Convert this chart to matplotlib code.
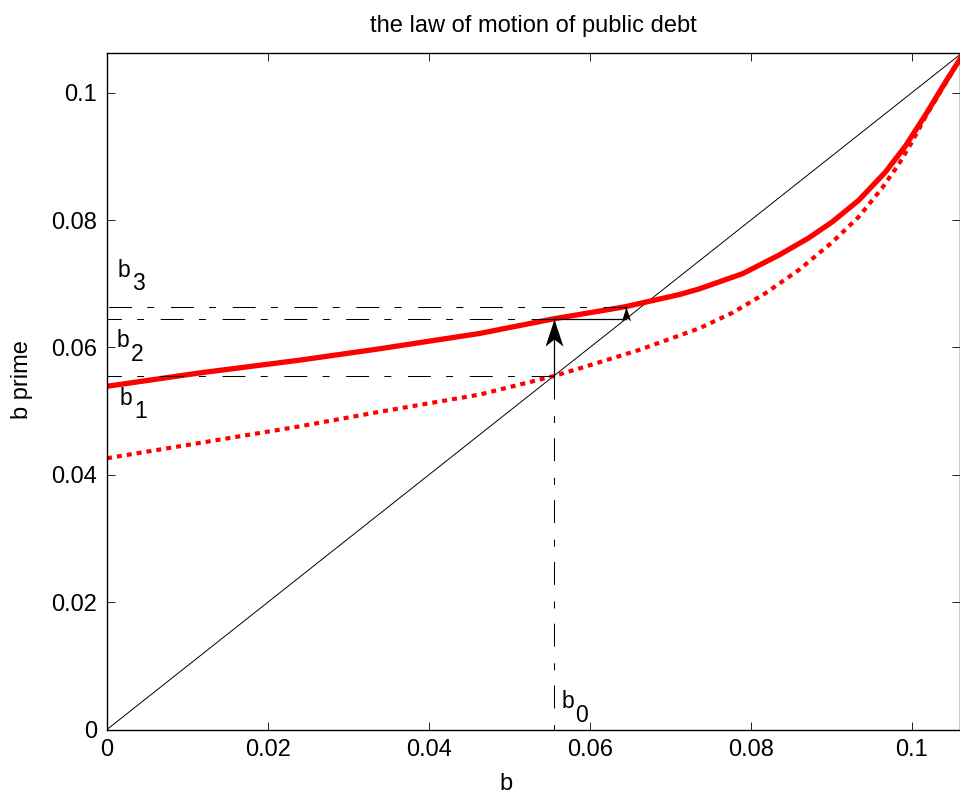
import matplotlib
matplotlib.use("Agg")
import matplotlib.pyplot as plt
from matplotlib.path import Path

plt.rcParams['font.family'] = ['Liberation Sans', 'DejaVu Sans']
plt.rcParams['lines.scale_dashes'] = False

# law of motion, new policy (solid red)
b_new = [0.0, 0.0115, 0.0239, 0.0339, 0.0463, 0.0555, 0.0644, 0.0711, 0.0736,
         0.0790, 0.0835, 0.0872, 0.0901, 0.0934, 0.0967, 0.0992, 0.1017, 0.1042, 0.1060]
bp_new = [0.0539, 0.0560, 0.0580, 0.0598, 0.0622, 0.0645, 0.0664, 0.0683, 0.0692,
          0.0716, 0.0745, 0.0772, 0.0797, 0.0831, 0.0875, 0.0916, 0.0965, 0.1017, 0.1053]

# law of motion, old policy (dotted red)
b_old = [0.0, 0.0115, 0.0239, 0.0339, 0.0463, 0.0555, 0.0587, 0.0661, 0.0736, 0.0778,
         0.0818, 0.0860, 0.0901, 0.0934, 0.0963, 0.0984, 0.1000, 0.1017, 0.1042, 0.1060]
bp_old = [0.0426, 0.0450, 0.0476, 0.0499, 0.0526, 0.0555, 0.0567, 0.0596, 0.0630, 0.0655,
          0.0685, 0.0722, 0.0765, 0.0805, 0.0850, 0.0888, 0.0922, 0.0962, 0.1015, 0.1053]

b_max = 0.106
diag = [0.0, b_max]

# iterations
b0 = 0.0555
b1 = 0.0555
b2 = 0.0645
b3 = 0.0663

ticks = [0, 0.02, 0.04, 0.06, 0.08, 0.1]
tick_labels = ['0', '0.02', '0.04', '0.06', '0.08', '0.1']

fig = plt.figure(figsize=(9.6, 8.01), dpi=100)
ax = fig.add_axes([107/960, 71.5/801, 853/960, 676.2/801])

ax.plot(diag, diag, color='k', lw=0.7)
ax.plot(b_old, bp_old, color='red', lw=3.0, linestyle=(0, (3.6, 3.6)), dash_capstyle='butt')
ax.plot(b_new, bp_new, color='red', lw=3.8)

dd = (0, (16.5, 12, 5, 11))
ax.plot([b0, 0], [b1, b1], color='k', lw=0.75, linestyle=dd)
ax.plot([b1, 0], [b2, b2], color='k', lw=0.75, linestyle=dd)
ax.plot([b2, 0], [b3, b3], color='k', lw=0.75, linestyle=dd)
ax.plot([b0, b0], [b1, 0], color='k', lw=0.75, linestyle=dd)

# arrows
head = Path([(0, 0), (-0.33, -1), (0, -0.74), (0.33, -1), (0, 0)],
            [Path.MOVETO, Path.LINETO, Path.LINETO, Path.LINETO, Path.CLOSEPOLY])
ax.plot([b0, b0], [b1, b2], color='k', lw=0.9)
ax.plot(b0, b2, marker=head, ms=39, color='k', mew=0)
ax.plot([b1, b2], [b2, b2], color='k', lw=0.9)
ax.plot([b2, b2], [b2, b3], color='k', lw=0.9)
ax.plot(b2, b3, marker=head, ms=20, color='k', mew=0)


def blabel(x, y, sub):
    ax.text(x, y, 'b', fontsize=16.5, va='baseline')
    ax.annotate(sub, (x, y), xytext=(10, -9.7), textcoords='offset points',
                fontsize=16.5, va='baseline')


blabel(0.00137, 0.0711, '3')
blabel(0.0012, 0.0600, '2')
blabel(0.0016, 0.0510, '1')
blabel(0.0565, 0.0033, '0')

ax.set_xlim(0, b_max)
ax.set_ylim(0, 0.1062)
ax.set_xticks(ticks)
ax.set_xticklabels(tick_labels)
ax.set_yticks(ticks)
ax.set_yticklabels(tick_labels)
ax.tick_params(direction='in', top=True, right=True, length=5.5, width=0.6,
               labelsize=17, pad=7)
for s in ax.spines.values():
    s.set_linewidth(1.0)

ax.set_title('the law of motion of public debt', fontsize=17, pad=15)
ax.set_xlabel('b', fontsize=17)
ax.set_ylabel('b prime', fontsize=17)
ax.xaxis.set_label_coords(0.468, -0.064)
ax.yaxis.set_label_coords(-0.087, 0.517)

fig.savefig('out.png', dpi=100)
